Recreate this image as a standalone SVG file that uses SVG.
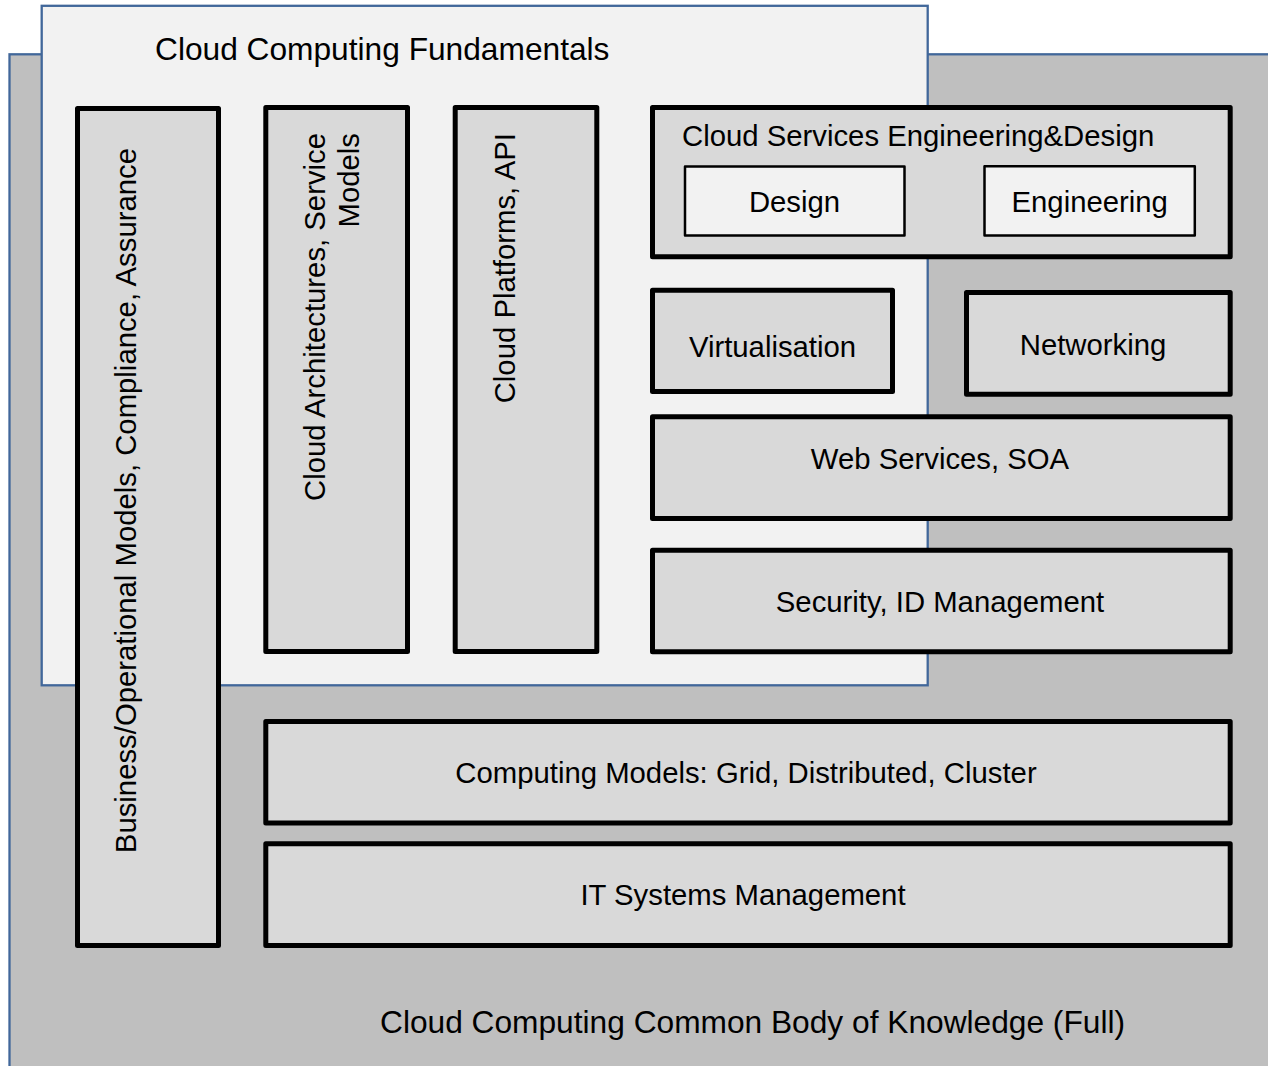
<svg xmlns="http://www.w3.org/2000/svg" width="1268" height="1066" viewBox="0 0 1268 1066">
<style>
  text { font-family: "Liberation Sans", Arial, sans-serif; fill: #000; }
  .big { font-size: 31.7px; }
  .lbl { font-size: 29.3px; }
  .mid { text-anchor: middle; }
  .end { text-anchor: end; }
  .container { stroke: #41679a; stroke-width: 2.3; }
  .box { fill: #d9d9d9; stroke: #000; stroke-width: 5; stroke-linejoin: round; }
  .sub { fill: #f2f2f2; stroke: #000; stroke-width: 2.5; stroke-linejoin: round; }
</style>
<rect width="1268" height="1066" fill="#ffffff"/>
<g id="cbok-full">
  <rect class="container" x="9.5" y="54.3" width="1270" height="1030" fill="#bfbfbf"/>
  <text class="big" x="380" y="1033">Cloud Computing Common Body of Knowledge (Full)</text>
</g>
<g id="fundamentals">
  <rect class="container" x="41.7" y="5.8" width="886" height="679.5" fill="#f2f2f2"/>
  <text class="big" x="155" y="60">Cloud Computing Fundamentals</text>
</g>
<g id="business">
  <rect class="box" x="77.5" y="108.5" width="141" height="837"/>
  <text class="lbl end" transform="translate(136,148) rotate(-90)">Business/Operational Models, Compliance, Assurance</text>
</g>
<g id="architectures">
  <rect class="box" x="265.8" y="107.5" width="141.7" height="544"/>
  <text class="lbl end" transform="translate(325,133) rotate(-90)">Cloud Architectures, Service</text>
  <text class="lbl end" transform="translate(359,133) rotate(-90)">Models</text>
</g>
<g id="platforms">
  <rect class="box" x="455.2" y="107.5" width="141.6" height="544"/>
  <text class="lbl end" transform="translate(515,133) rotate(-90)">Cloud Platforms, API</text>
</g>
<g id="engineering-design">
  <rect class="box" x="652.5" y="107.5" width="577.7" height="149.3"/>
  <text class="lbl" x="682" y="146">Cloud Services Engineering&amp;Design</text>
</g>
<g id="design">
  <rect class="sub" x="685" y="166.5" width="219.5" height="69"/>
  <text class="lbl mid" x="794.5" y="212">Design</text>
</g>
<g id="engineering">
  <rect class="sub" x="984.5" y="166.3" width="210.3" height="69.2"/>
  <text class="lbl mid" x="1089.7" y="212">Engineering</text>
</g>
<g id="virtualisation">
  <rect class="box" x="652.5" y="290.2" width="240" height="101.4"/>
  <text class="lbl mid" x="772.5" y="357">Virtualisation</text>
</g>
<g id="networking">
  <rect class="box" x="966.5" y="292.5" width="263.7" height="101.8"/>
  <text class="lbl mid" x="1093" y="355">Networking</text>
</g>
<g id="web-services">
  <rect class="box" x="652.5" y="416.8" width="577.7" height="101.7"/>
  <text class="lbl mid" x="940" y="469">Web Services, SOA</text>
</g>
<g id="security">
  <rect class="box" x="652.5" y="550.2" width="577.7" height="101.6"/>
  <text class="lbl mid" x="940" y="612">Security, ID Management</text>
</g>
<g id="computing-models">
  <rect class="box" x="265.8" y="721.5" width="964.4" height="101.5"/>
  <text class="lbl mid" x="746" y="783">Computing Models: Grid, Distributed, Cluster</text>
</g>
<g id="it-systems">
  <rect class="box" x="265.8" y="843.8" width="964.4" height="101.7"/>
  <text class="lbl mid" x="743" y="905">IT Systems Management</text>
</g>
<g id="connectors"></g>
</svg>
